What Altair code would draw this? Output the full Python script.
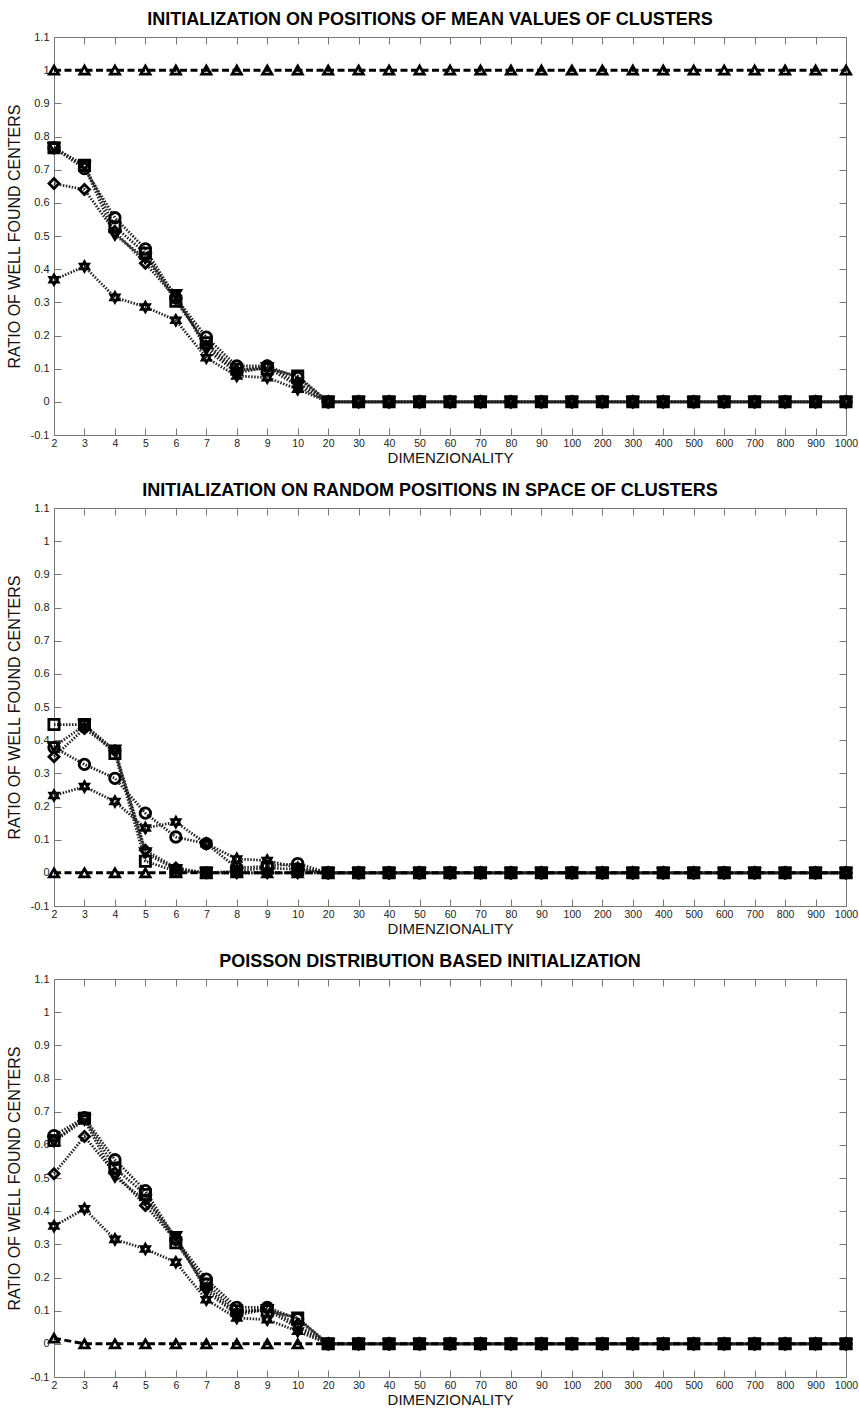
import altair as alt
import pandas as pd

dims = ["2", "3", "4", "5", "6", "7", "8", "9", "10", "20", "30", "40", "50",
        "60", "70", "80", "90", "100", "200", "300", "400", "500", "600", "700",
        "800", "900", "1000"]

series_names = ["circle", "square", "diamond", "tri_down", "hexagram", "tri_up"]

y_ticks = [-0.1, 0.0, 0.1, 0.2, 0.3, 0.4, 0.5, 0.6, 0.7, 0.8, 0.9, 1.0, 1.1]

titles = [
    "INITIALIZATION ON POSITIONS OF MEAN VALUES OF CLUSTERS",
    "INITIALIZATION ON RANDOM POSITIONS IN SPACE OF CLUSTERS",
    "POISSON DISTRIBUTION BASED INITIALIZATION",
]

# ---- panel 1 ----
p1_circle = [0.766, 0.703, 0.555, 0.461, 0.313, 0.195, 0.108, 0.108, 0.073,
             0, 0, 0, 0, 0, 0, 0, 0, 0, 0, 0, 0, 0, 0, 0, 0, 0, 0]
p1_square = [0.766, 0.713, 0.528, 0.448, 0.303, 0.178, 0.098, 0.100, 0.078,
             0, 0, 0, 0, 0, 0, 0, 0, 0, 0, 0, 0, 0, 0, 0, 0, 0, 0]
p1_diamond = [0.658, 0.640, 0.513, 0.418, 0.313, 0.168, 0.093, 0.108, 0.058,
              0, 0, 0, 0, 0, 0, 0, 0, 0, 0, 0, 0, 0, 0, 0, 0, 0, 0]
p1_tri_down = [0.766, 0.710, 0.503, 0.433, 0.323, 0.158, 0.088, 0.103, 0.048,
               0, 0, 0, 0, 0, 0, 0, 0, 0, 0, 0, 0, 0, 0, 0, 0, 0, 0]
p1_hexagram = [0.368, 0.408, 0.315, 0.286, 0.246, 0.133, 0.078, 0.073, 0.038,
               0, 0, 0, 0, 0, 0, 0, 0, 0, 0, 0, 0, 0, 0, 0, 0, 0, 0]
p1_tri_up = [1, 1, 1, 1, 1, 1, 1, 1, 1, 1, 1, 1, 1, 1, 1, 1, 1, 1, 1, 1, 1,
             1, 1, 1, 1, 1, 1]

# ---- panel 2 ----
p2_circle = [0.378, 0.327, 0.285, 0.180, 0.108, 0.088, 0.015, 0.020, 0.028,
             0, 0, 0, 0, 0, 0, 0, 0, 0, 0, 0, 0, 0, 0, 0, 0, 0, 0]
p2_square = [0.447, 0.447, 0.360, 0.035, 0.005, 0.0, 0.005, 0.015, 0.010,
             0, 0, 0, 0, 0, 0, 0, 0, 0, 0, 0, 0, 0, 0, 0, 0, 0, 0]
p2_diamond = [0.350, 0.435, 0.368, 0.068, 0.015, 0.0, 0.0, 0.0, 0.0,
              0, 0, 0, 0, 0, 0, 0, 0, 0, 0, 0, 0, 0, 0, 0, 0, 0, 0]
p2_tri_down = [0.380, 0.445, 0.370, 0.060, 0.010, 0.0, 0.0, 0.0, 0.0,
               0, 0, 0, 0, 0, 0, 0, 0, 0, 0, 0, 0, 0, 0, 0, 0, 0, 0]
p2_hexagram = [0.233, 0.260, 0.215, 0.135, 0.153, 0.088, 0.042, 0.037, 0.015,
               0, 0, 0, 0, 0, 0, 0, 0, 0, 0, 0, 0, 0, 0, 0, 0, 0, 0]
p2_tri_up = [0, 0, 0, 0, 0, 0, 0, 0, 0, 0, 0, 0, 0, 0, 0, 0, 0, 0, 0, 0, 0,
             0, 0, 0, 0, 0, 0]

# ---- panel 3 ----
p3_circle = [0.628, 0.682, 0.555, 0.462, 0.315, 0.195, 0.110, 0.110, 0.075,
             0, 0, 0, 0, 0, 0, 0, 0, 0, 0, 0, 0, 0, 0, 0, 0, 0, 0]
p3_square = [0.613, 0.680, 0.530, 0.450, 0.305, 0.180, 0.100, 0.100, 0.078,
             0, 0, 0, 0, 0, 0, 0, 0, 0, 0, 0, 0, 0, 0, 0, 0, 0, 0]
p3_diamond = [0.513, 0.625, 0.515, 0.417, 0.313, 0.168, 0.093, 0.108, 0.058,
              0, 0, 0, 0, 0, 0, 0, 0, 0, 0, 0, 0, 0, 0, 0, 0, 0, 0]
p3_tri_down = [0.610, 0.675, 0.503, 0.433, 0.323, 0.158, 0.088, 0.103, 0.048,
               0, 0, 0, 0, 0, 0, 0, 0, 0, 0, 0, 0, 0, 0, 0, 0, 0, 0]
p3_hexagram = [0.355, 0.407, 0.315, 0.286, 0.246, 0.133, 0.078, 0.073, 0.038,
               0, 0, 0, 0, 0, 0, 0, 0, 0, 0, 0, 0, 0, 0, 0, 0, 0, 0]
p3_tri_up = [0.017, 0, 0, 0, 0, 0, 0, 0, 0, 0, 0, 0, 0, 0, 0, 0, 0, 0, 0, 0,
             0, 0, 0, 0, 0, 0, 0]

panels = [
    [p1_circle, p1_square, p1_diamond, p1_tri_down, p1_hexagram, p1_tri_up],
    [p2_circle, p2_square, p2_diamond, p2_tri_down, p2_hexagram, p2_tri_up],
    [p3_circle, p3_square, p3_diamond, p3_tri_down, p3_hexagram, p3_tri_up],
]

HEX = ("M0,-1L-0.289,-0.5L-0.866,-0.5L-0.577,0L-0.866,0.5L-0.289,0.5L0,1"
       "L0.289,0.5L0.866,0.5L0.577,0L0.866,-0.5L0.289,-0.5Z")
shapes = ["circle", "square", "diamond", "triangle-down", HEX, "triangle-up"]
marker_sizes = [110, 85, 100, 100, 150, 120]

FONT = "Liberation Sans"
W, H = 792, 398
TICK_COLOR = "#777777"
LABEL_EXPR = "'' + round(datum.value * 10) / 10"


def make_panel(title, series_vals):
    rows = []
    for s, arr in zip(series_names, series_vals):
        for i, (d, v) in enumerate(zip(dims, arr)):
            rows.append({"dim": d, "idx": i, "series": s, "value": v})
    df = pd.DataFrame(rows)
    base = alt.Chart(df)

    xs = alt.Scale(type="point", domain=dims, padding=0)
    ys = alt.Scale(domain=[-0.1, 1.1], nice=False, zero=False)

    x_main = alt.X("dim:O", scale=xs, axis=alt.Axis(
        title="DIMENZIONALITY", labelAngle=0, tickSize=0, domain=False,
        grid=False, labelPadding=3, labelFont=FONT, labelFontSize=10.5,
        labelColor="#222222", titleFont=FONT, titleFontSize=15,
        titleFontWeight="normal", titleColor="#111111", titlePadding=2))
    y_main = alt.Y("value:Q", scale=ys, axis=alt.Axis(
        title="RATIO OF WELL FOUND CENTERS", values=y_ticks,
        labelExpr=LABEL_EXPR, tickSize=0, domain=False, grid=False,
        labelPadding=5, labelFont=FONT, labelFontSize=11,
        labelColor="#222222", titleFont=FONT, titleFontSize=16,
        titleFontWeight="normal", titleColor="#111111", titlePadding=8))
    x_none = alt.X("dim:O", scale=xs, axis=None)
    y_none = alt.Y("value:Q", scale=ys, axis=None)

    def tick_axis_x(orient):
        return alt.X("dim:O", scale=xs, axis=alt.Axis(
            orient=orient, offset=-7, tickSize=7, tickColor=TICK_COLOR,
            labels=False, domain=False, grid=False, title=None))

    def tick_axis_y(orient):
        return alt.Y("value:Q", scale=ys, axis=alt.Axis(
            orient=orient, offset=-7, tickSize=7, tickColor=TICK_COLOR,
            values=y_ticks, labels=False, domain=False, grid=False,
            title=None))

    dotted = base.transform_filter(alt.datum.series != "tri_up").mark_line(
        color="#222222", strokeWidth=2.8, strokeDash=[1.5, 1.5]
    ).encode(x=x_main, y=y_main, detail="series:N", order="idx:Q")

    dashed = base.transform_filter(alt.datum.series == "tri_up").mark_line(
        color="#000000", strokeWidth=3, strokeDash=[7, 3.5]
    ).encode(x=x_none, y=y_none, order="idx:Q")

    points = base.mark_point(
        filled=False, color="#000000", strokeWidth=2.8, opacity=1
    ).encode(
        x=x_none, y=y_none,
        shape=alt.Shape("series:N", scale=alt.Scale(domain=series_names,
                                                    range=shapes),
                        legend=None),
        size=alt.Size("series:N", scale=alt.Scale(domain=series_names,
                                                  range=marker_sizes),
                      legend=None))

    ticks_bl = base.mark_point(opacity=0).encode(
        x=tick_axis_x("bottom"), y=tick_axis_y("left"))
    ticks_tr = base.mark_point(opacity=0).encode(
        x=tick_axis_x("top"), y=tick_axis_y("right"))

    return alt.layer(dotted, dashed, points, ticks_bl, ticks_tr).resolve_axis(
        x="independent", y="independent"
    ).properties(
        width=W, height=H,
        title=alt.TitleParams(text=title, font=FONT, fontSize=18,
                              fontWeight="bold", color="#000000", dx=-20,
                              offset=2, anchor="middle"))


charts = [make_panel(t, v) for t, v in zip(titles, panels)]

chart = alt.vconcat(*charts, spacing=15).properties(
    background="white",
    padding={"left": 5, "top": 10, "right": 0, "bottom": 0},
).configure_view(stroke=TICK_COLOR, strokeWidth=1)

chart.save("out.html", embed_options={"renderer": "svg", "actions": False})
